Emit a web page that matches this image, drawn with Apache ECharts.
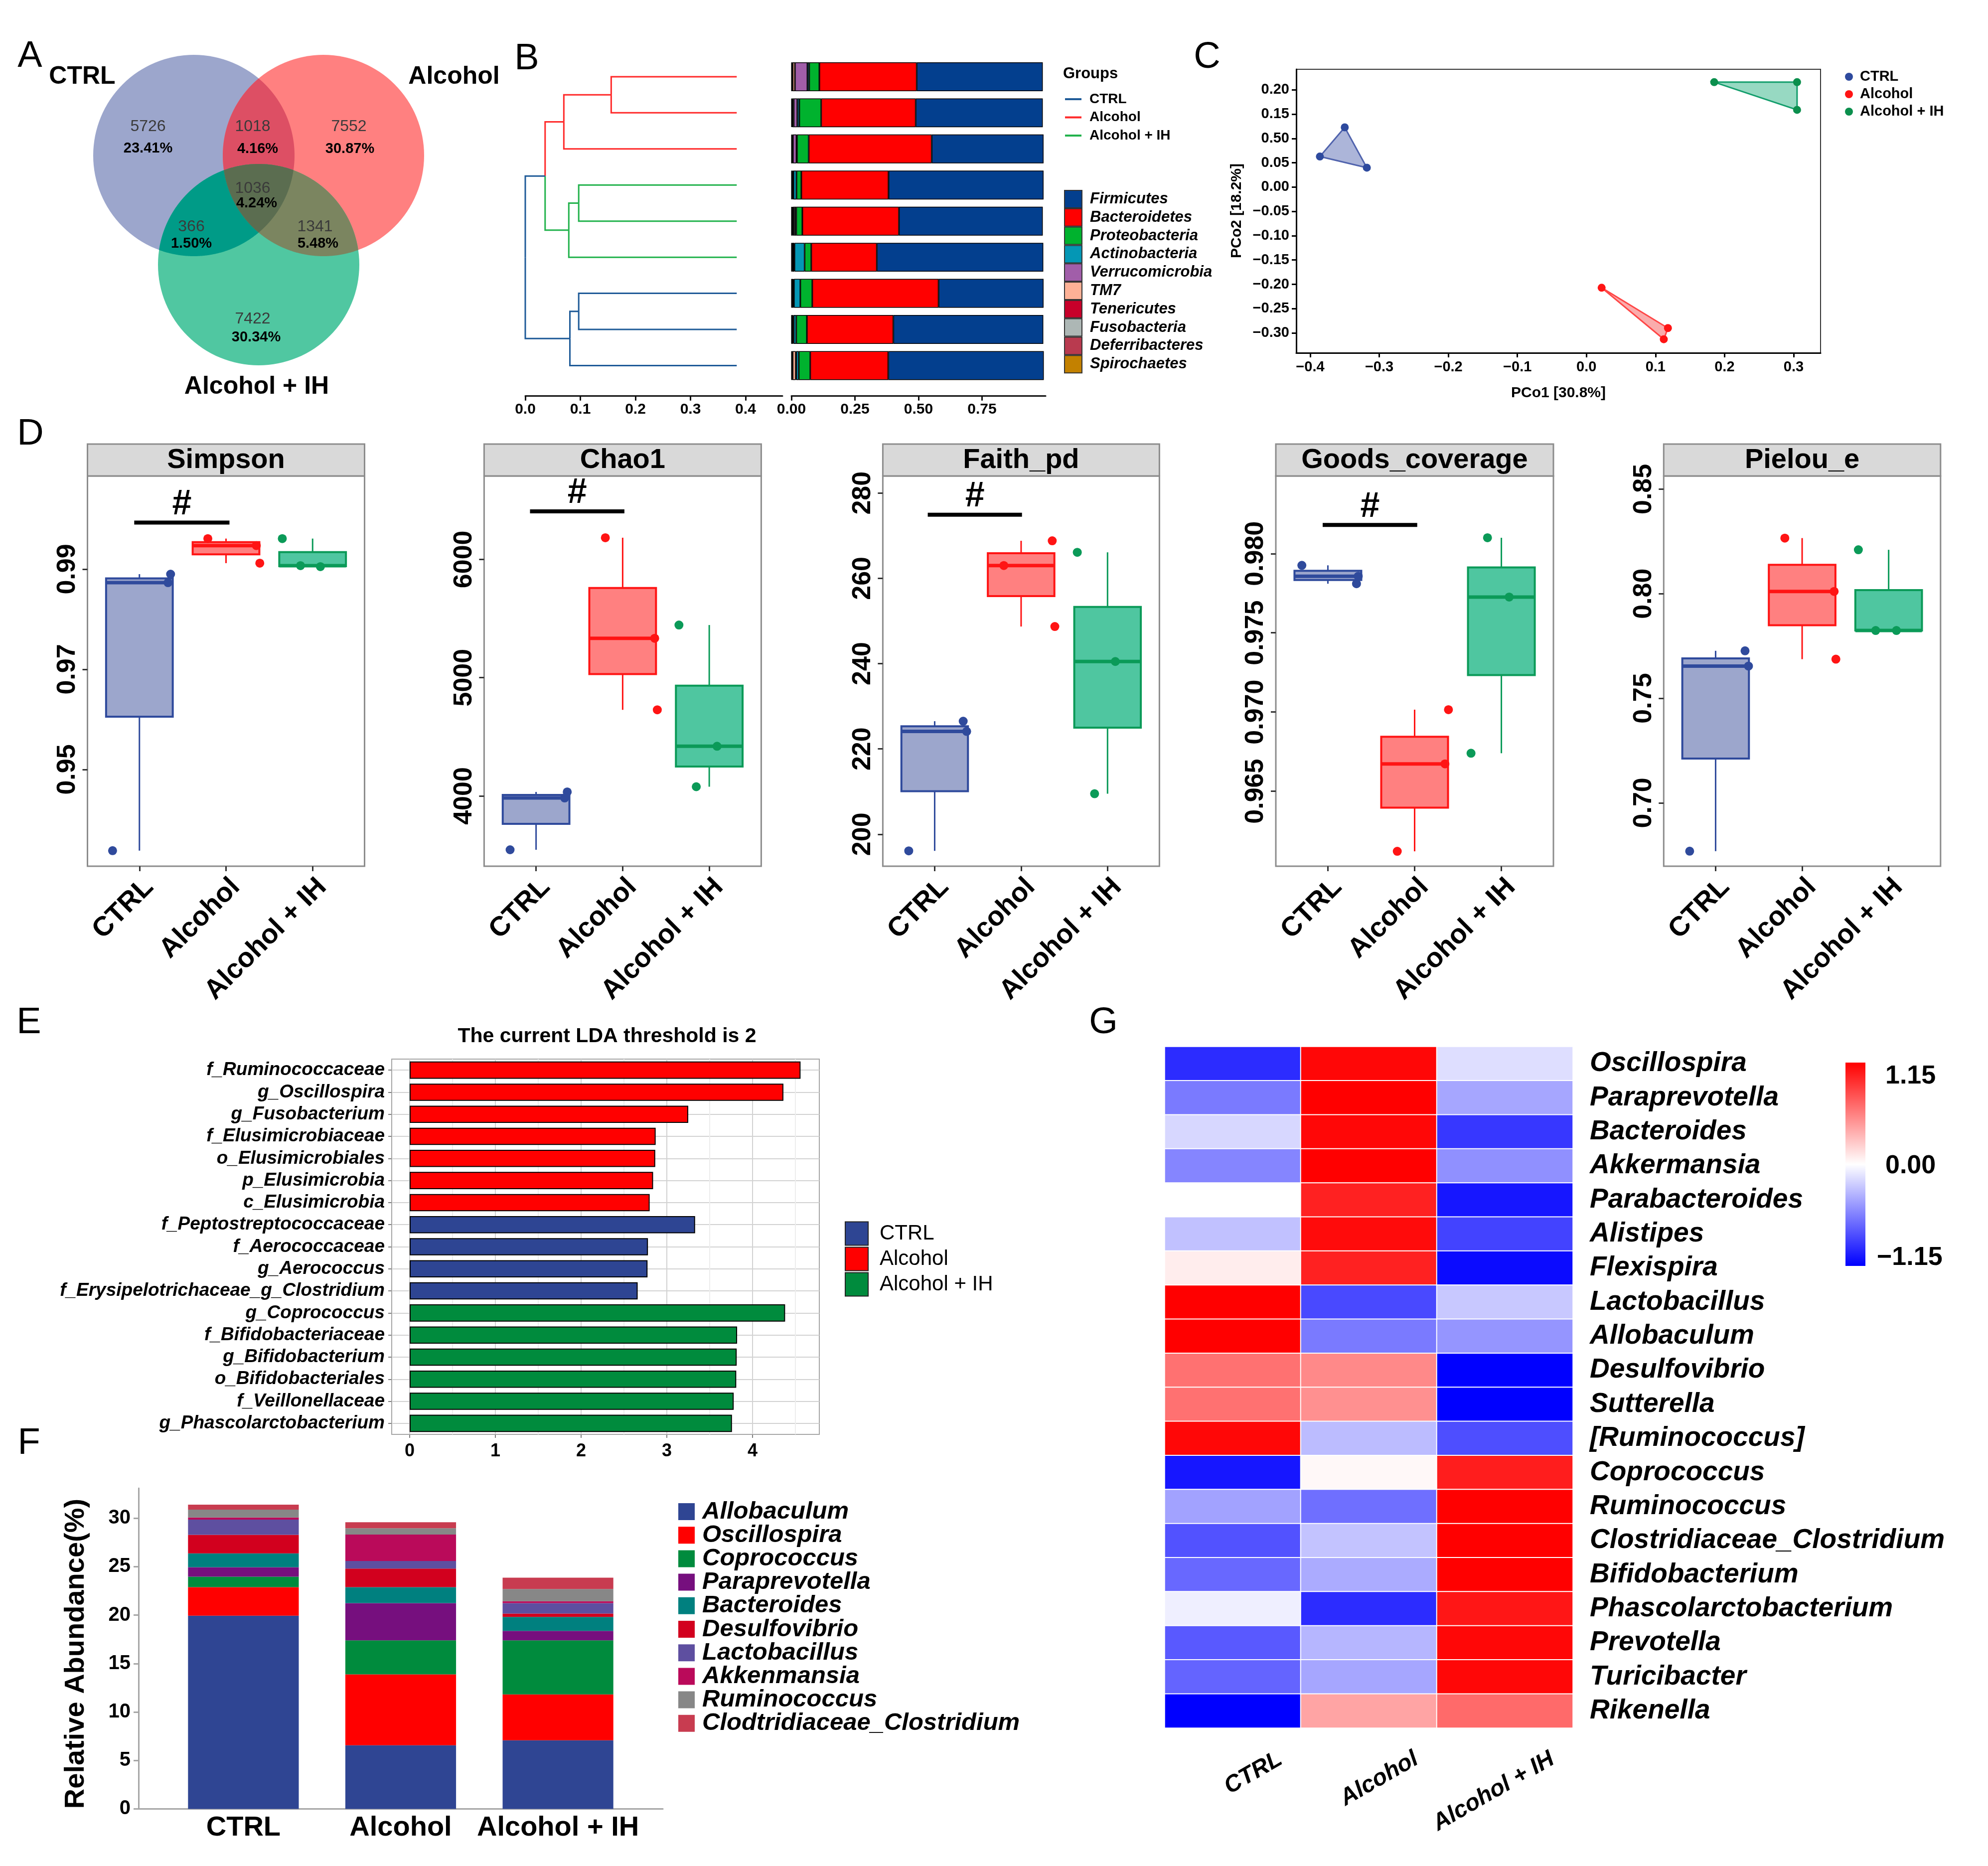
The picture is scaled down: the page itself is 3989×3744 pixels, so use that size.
<!DOCTYPE html>
<html>
<head>
<meta charset="utf-8">
<title>Figure</title>
<script src="https://cdn.jsdelivr.net/npm/echarts@6.0.0/dist/echarts.min.js"></script>
<style>
html,body{margin:0;padding:0;background:#ffffff;}
#chart{width:3989px;height:3744px;}
</style>
</head>
<body>
<div id="chart"></div>
<script>
// ======================= DATA =======================
const groups = ['CTRL', 'Alcohol', 'Alcohol + IH'];

// ---- Panel A: Venn ----
const vennSets = ['CTRL', 'Alcohol', 'Alcohol + IH'];
// order: CTRL only, CTRL&Alcohol, Alcohol only, all three, CTRL&IH, Alcohol&IH, IH only
const vennCounts = [5726, 1018, 7552, 1036, 366, 1341, 7422];
const vennPercents = ['23.41%', '4.16%', '30.87%', '4.24%', '1.50%', '5.48%', '30.34%'];

// ---- Panel B: dendrogram + phylum bars ----
const dendroLeafHeight = 0.384;
const dendroLeafGroup = [1, 1, 1, 2, 2, 2, 0, 0, 0];
// [childA, childB, height, group]  (leaves 0-8, merges numbered from 9)
const dendroMerges = [
  [0, 1, 0.156, 1], [9, 2, 0.070, 1], [3, 4, 0.097, 2], [11, 5, 0.079, 2],
  [10, 12, 0.036, 0], [6, 7, 0.097, 0], [14, 8, 0.081, 0], [13, 15, 0.0, 0]
];
const dendroTicks = [0, 0.1, 0.2, 0.3, 0.4];
const sampleIds = ['A1', 'A2', 'A3', 'I1', 'I2', 'I3', 'C1', 'C2', 'C3'];
const phyla = ['Firmicutes', 'Bacteroidetes', 'Proteobacteria', 'Actinobacteria', 'Verrucomicrobia',
  'TM7', 'Tenericutes', 'Fusobacteria', 'Deferribacteres', 'Spirochaetes'];
const firmicutes      = [0.496, 0.500, 0.440, 0.610, 0.566, 0.655, 0.413, 0.590, 0.612];
const bacteroidetes   = [0.383, 0.372, 0.484, 0.343, 0.380, 0.258, 0.497, 0.340, 0.307];
const proteobacteria  = [0.040, 0.086, 0.046, 0.019, 0.024, 0.026, 0.047, 0.042, 0.045];
const actinobacteria  = [0.007, 0.008, 0.002, 0.012, 0.006, 0.040, 0.025, 0.010, 0.010];
const verrucomicrobia = [0.049, 0.014, 0.014, 0.001, 0.006, 0.002, 0.002, 0.002, 0.002];
const tm7             = [0.009, 0.004, 0.002, 0.002, 0.002, 0.005, 0.003, 0.002, 0.012];
const tenericutes     = [0.001, 0.001, 0.001, 0.001, 0.001, 0.001, 0.001, 0.001, 0.001];
const fusobacteria    = [0.002, 0.002, 0.001, 0.002, 0.002, 0.002, 0.002, 0.002, 0.002];
const deferribacteres = [0.001, 0.001, 0.001, 0.001, 0.001, 0.001, 0.001, 0.001, 0.001];
const spirochaetes    = [0.001, 0.001, 0.001, 0.001, 0.001, 0.001, 0.001, 0.001, 0.001];
const phylumValues = [firmicutes, bacteroidetes, proteobacteria, actinobacteria, verrucomicrobia,
  tm7, tenericutes, fusobacteria, deferribacteres, spirochaetes];
const barTicks = [0, 0.25, 0.5, 0.75];
const barTickLabels = ['0.00', '0.25', '0.50', '0.75'];

// ---- Panel C: PCoA ----
const pcoaCtrlX = [-0.350, -0.386, -0.318];
const pcoaCtrlY = [0.123, 0.063, 0.040];
const pcoaAlcX = [0.022, 0.118, 0.112];
const pcoaAlcY = [-0.207, -0.290, -0.313];
const pcoaIhX = [0.185, 0.305, 0.305];
const pcoaIhY = [0.216, 0.216, 0.159];
const pcoaXTicks = [-0.4, -0.3, -0.2, -0.1, 0, 0.1, 0.2, 0.3];
const pcoaXLabels = ['\u22120.4', '\u22120.3', '\u22120.2', '\u22120.1', '0.0', '0.1', '0.2', '0.3'];
const pcoaYTicks = [-0.30, -0.25, -0.20, -0.15, -0.10, -0.05, 0, 0.05, 0.10, 0.15, 0.20];
const pcoaYLabels = ['\u22120.30', '\u22120.25', '\u22120.20', '\u22120.15', '\u22120.10', '\u22120.05',
  '0.00', '0.05', '0.50', '0.15', '0.20'];

// ---- Panel D: alpha diversity (3 samples / group, jittered x) ----
const simpsonValues = [[0.9338, 0.9873, 0.9890], [0.9961, 0.9947, 0.9912], [0.9961, 0.9907, 0.9905]];
const simpsonJitter = [[0.69, 1.33, 1.36], [1.79, 2.35, 2.39], [2.65, 2.86, 3.09]];
const simpsonTicks = [0.95, 0.97, 0.99];
const simpsonTickLabels = ['0.95', '0.97', '0.99'];
const simpsonSig = [0.94, 2.04, 0.9993];

const chao1Values = [[3545, 3983, 4034], [6183, 5333, 4728], [5445, 4078, 4420]];
const chao1Jitter = [[0.70, 1.33, 1.36], [1.80, 2.37, 2.40], [2.65, 2.85, 3.09]];
const chao1Ticks = [4000, 5000, 6000];
const chao1TickLabels = ['4000', '5000', '6000'];
const chao1Sig = [0.93, 2.02, 6406];

const faithValues = [[196.1, 226.5, 224.1], [263.0, 268.8, 248.7], [266.1, 240.5, 209.5]];
const faithJitter = [[0.70, 1.33, 1.37], [1.80, 2.36, 2.39], [2.65, 3.09, 2.85]];
const faithTicks = [200, 220, 240, 260, 280];
const faithTickLabels = ['200', '220', '240', '260', '280'];
const faithSig = [0.92, 2.01, 274.9];

const goodsValues = [[0.97926, 0.97857, 0.97810], [0.97015, 0.96673, 0.96121], [0.98100, 0.97726, 0.96740]];
const goodsJitter = [[0.70, 1.35, 1.33], [2.39, 2.35, 1.80], [2.84, 3.09, 2.65]];
const goodsTicks = [0.965, 0.970, 0.975, 0.980];
const goodsTickLabels = ['0.965', '0.970', '0.975', '0.980'];
const goodsSig = [0.94, 2.03, 0.98181];

const pielouValues = [[0.6769, 0.7727, 0.7654], [0.8266, 0.8011, 0.7687], [0.8210, 0.7824, 0.7824]];
const pielouJitter = [[0.70, 1.34, 1.38], [1.80, 2.37, 2.39], [2.65, 2.85, 3.09]];
const pielouTicks = [0.70, 0.75, 0.80, 0.85];
const pielouTickLabels = ['0.70', '0.75', '0.80', '0.85'];

// ---- Panel E: LEfSe LDA ----
const ldaTaxa = ['f_Ruminococcaceae', 'g_Oscillospira', 'g_Fusobacterium', 'f_Elusimicrobiaceae',
  'o_Elusimicrobiales', 'p_Elusimicrobia', 'c_Elusimicrobia', 'f_Peptostreptococcaceae',
  'f_Aerococcaceae', 'g_Aerococcus', 'f_Erysipelotrichaceae_g_Clostridium', 'g_Coprococcus',
  'f_Bifidobacteriaceae', 'g_Bifidobacterium', 'o_Bifidobacteriales', 'f_Veillonellaceae',
  'g_Phascolarctobacterium'];
const ldaScores = [4.56, 4.36, 3.25, 2.87, 2.865, 2.84, 2.80, 3.33, 2.78, 2.775, 2.66,
  4.38, 3.82, 3.815, 3.81, 3.78, 3.76];
const ldaGroup = [1, 1, 1, 1, 1, 1, 1, 0, 0, 0, 0, 2, 2, 2, 2, 2, 2];
const ldaTicks = [0, 1, 2, 3, 4];
const ldaMinorTicks = [0.5, 1.5, 2.5, 3.5, 4.5];

// ---- Panel F: genus relative abundance ----
const genera = ['Allobaculum', 'Oscillospira', 'Coprococcus', 'Paraprevotella', 'Bacteroides',
  'Desulfovibrio', 'Lactobacillus', 'Akkenmansia', 'Ruminococcus', 'Clodtridiaceae_Clostridium'];
const ctrlAbund = [19.94, 2.95, 1.08, 0.97, 1.43, 1.92, 1.57, 0.22, 0.81, 0.51];
const alcAbund  = [6.57, 7.32, 3.51, 3.84, 1.65, 1.92, 0.78, 2.73, 0.65, 0.62];
const ihAbund   = [7.08, 4.73, 5.59, 0.98, 1.43, 0.35, 1.08, 0.19, 1.27, 1.16];
const abundTicks = [0, 5, 10, 15, 20, 25, 30];

// ---- Panel G: heatmap (z-scores) ----
const heatRows = ['Oscillospira', 'Paraprevotella', 'Bacteroides', 'Akkermansia', 'Parabacteroides',
  'Alistipes', 'Flexispira', 'Lactobacillus', 'Allobaculum', 'Desulfovibrio', 'Sutterella',
  '[Ruminococcus]', 'Coprococcus', 'Ruminococcus', 'Clostridiaceae_Clostridium', 'Bifidobacterium',
  'Phascolarctobacterium', 'Prevotella', 'Turicibacter', 'Rikenella'];
const heatCtrl = [-0.95, -0.60, -0.18, -0.55, 0.00, -0.28, 0.08, 1.15, 1.15, 0.64, 0.64, 1.12,
  -1.05, -0.42, -0.78, -0.68, -0.07, -0.75, -0.70, -1.15];
const heatAlc = [1.12, 1.15, 1.12, 1.15, 1.00, 1.10, 1.00, -0.82, -0.60, 0.53, 0.50, -0.30,
  0.03, -0.65, -0.27, -0.38, -0.95, -0.33, -0.40, 0.41];
const heatIh = [-0.15, -0.40, -0.90, -0.50, -1.05, -0.85, -1.10, -0.25, -0.48, -1.15, -1.15, -0.80,
  1.02, 1.15, 1.15, 1.15, 1.05, 1.12, 1.12, 0.67];
const heatRange = [-1.15, 1.15];
const heatScaleLabels = ['1.15', '0.00', '\u22121.15'];

// ======================= STYLE / HELPERS =======================
const FONT = "'Liberation Sans', Arial, Helvetica, sans-serif";
const grids = [], xAxes = [], yAxes = [], series = [], gfx = [];
function addGrid(g) { grids.push(g); return grids.length - 1; }
function addX(a) { xAxes.push(a); return xAxes.length - 1; }
function addY(a) { yAxes.push(a); return yAxes.length - 1; }
function fnt(size, weight, style) {
  return [style && style !== 'normal' ? style : '', weight && weight !== 'normal' ? weight : '', size + 'px', FONT]
    .filter(Boolean).join(' ');
}
function txt(x, y, text, font, align, valign, rotation, fill, z) {
  align = align || 'center'; valign = valign || 'middle';
  return { type: 'text', x: x, y: y, rotation: rotation || 0, silent: true, z: z || 50,
    style: { text: String(text), x: 0, y: 0, font: font, fill: fill || '#000',
      align: align, verticalAlign: valign, textAlign: align, textVerticalAlign: valign } };
}
function labelFrom(ticks, labels) {
  return function (v) {
    let b = 0;
    for (let i = 1; i < ticks.length; i++) if (Math.abs(ticks[i] - v) < Math.abs(ticks[b] - v)) b = i;
    return labels[b];
  };
}
function fiveNum(arr) {
  const a = arr.slice().sort((p, q) => p - q);
  const qt = p => { const h = (a.length - 1) * p, lo = Math.floor(h), hi = Math.min(lo + 1, a.length - 1);
    return a[lo] + (h - lo) * (a[hi] - a[lo]); };
  return [a[0], qt(0.25), qt(0.5), qt(0.75), a[a.length - 1]];
}
const grpLine = ['#2F4A9C', '#FF1414', '#0B9A58'];
const grpFill = ['#9CA6CC', '#FF8080', '#4FC6A0'];
const dendroColors = ['#1F5B98', '#FF2A2A', '#22B24C'];
const phylumColors = ['#033F8E', '#FF0000', '#00B22E', '#0497B5', '#A15EA9', '#FDB196',
  '#C8002A', '#ADB7B5', '#B93A4F', '#C38100'];
const ldaColors = ['#2E4593', '#FF0000', '#008B3D'];
const genusColors = ['#2F4593', '#FF0000', '#008B3D', '#760F7E', '#00807F', '#D2001E',
  '#5E4FA0', '#BA0A5A', '#878787', '#C83C50'];

// ======================= PANEL LETTERS =======================
[['A', 60, 114], ['B', 1057, 119], ['C', 2422, 116], ['D', 61, 872], ['E', 58, 2053], ['F', 58, 2897], ['G', 2214, 2053]]
  .forEach(l => gfx.push(txt(l[1], l[2], l[0], fnt(74), 'center', 'middle')));

// ======================= A: VENN =======================
const vennCenters = [[389, 312], [649, 312], [519, 531]];
const vennR = 202;
const vennBase = ['#9CA6CC', '#FF8080', '#50C7A1'];
function vennRegion(ids) {
  const pts = [];
  ids.forEach(i => {
    for (let k = 0; k < 1440; k++) {
      const t = k / 1440 * 2 * Math.PI;
      const p = [vennCenters[i][0] + vennR * Math.cos(t), vennCenters[i][1] + vennR * Math.sin(t)];
      const ok = ids.every(j => j === i ||
        Math.pow(p[0] - vennCenters[j][0], 2) + Math.pow(p[1] - vennCenters[j][1], 2) <= vennR * vennR + 2);
      if (ok) pts.push(p);
    }
  });
  let cx = 0, cy = 0; pts.forEach(p => { cx += p[0]; cy += p[1]; }); cx /= pts.length; cy /= pts.length;
  pts.sort((p, q) => Math.atan2(p[1] - cy, p[0] - cx) - Math.atan2(q[1] - cy, q[0] - cx));
  return pts;
}
vennCenters.forEach((c, i) => gfx.push({ type: 'circle', silent: true, z: 10,
  shape: { cx: c[0], cy: c[1], r: vennR }, style: { fill: vennBase[i] } }));
[[[0, 1], '#DD4F64'], [[0, 2], '#009B87'], [[1, 2], '#7B8560'], [[0, 1, 2], '#5B6D50']].forEach(r =>
  gfx.push({ type: 'polygon', silent: true, z: 11, shape: { points: vennRegion(r[0]) }, style: { fill: r[1] } }));
const vennNumPos = [[297, 254], [507, 254], [700, 254], [507, 378], [384, 455], [632, 455], [507, 640]];
const vennPctPos = [[297, 298], [517, 299], [702, 299], [515, 408], [384, 489], [638, 489], [514, 677]];
vennCounts.forEach((n, i) => {
  gfx.push(txt(vennNumPos[i][0], vennNumPos[i][1], n, fnt(32), 'center', 'middle', 0, '#3A3A3A', 20));
  gfx.push(txt(vennPctPos[i][0], vennPctPos[i][1], vennPercents[i], fnt(29, 'bold'), 'center', 'middle', 0, '#000', 20));
});
gfx.push(txt(165, 154, vennSets[0], fnt(50, 'bold')));
gfx.push(txt(911, 154, vennSets[1], fnt(50, 'bold')));
gfx.push(txt(515, 776, vennSets[2], fnt(50, 'bold')));

// ======================= B: DENDROGRAM =======================
const gDen = addGrid({ left: 1054, top: 117.7, width: 516, height: 652 });
const xDen = addX({ gridIndex: gDen, type: 'value', min: 0, max: 0.467, offset: 25,
  axisLine: { show: true, onZero: false, lineStyle: { color: '#111', width: 3 } },
  axisTick: { show: true, length: 9, customValues: dendroTicks, lineStyle: { color: '#111', width: 3 } },
  axisLabel: { customValues: dendroTicks, formatter: v => v.toFixed(1), fontSize: 30, fontWeight: 'bold', color: '#000', margin: 12 },
  splitLine: { show: false } });
const yDen = addY({ gridIndex: gDen, type: 'value', min: -0.5, max: 8.5, inverse: true, show: false, splitLine: { show: false } });
const nodeX = [], nodeY = [], nodeG = [];
for (let i = 0; i < dendroLeafGroup.length; i++) { nodeX[i] = dendroLeafHeight; nodeY[i] = i; nodeG[i] = dendroLeafGroup[i]; }
dendroMerges.forEach((m, k) => { const id = dendroLeafGroup.length + k; nodeX[id] = m[2];
  nodeY[id] = (nodeY[m[0]] + nodeY[m[1]]) / 2; nodeG[id] = m[3]; });
const branchData = [];
dendroMerges.forEach((m, k) => { const id = dendroLeafGroup.length + k;
  [m[0], m[1]].forEach(c => branchData.push([nodeX[id], nodeY[id], nodeX[c], nodeY[c], nodeG[c]])); });
series.push({ type: 'custom', name: 'dendrogram', xAxisIndex: xDen, yAxisIndex: yDen, data: branchData,
  encode: { x: [0, 2], y: [1, 3] }, silent: true,
  renderItem: function (p, api) {
    const a = api.coord([api.value(0), api.value(1)]);
    const b = api.coord([api.value(0), api.value(3)]);
    const c = api.coord([api.value(2), api.value(3)]);
    return { type: 'polyline', shape: { points: [a, b, c] },
      style: { stroke: dendroColors[api.value(4)], lineWidth: 3, fill: 'none' } };
  } });

// ======================= B: PHYLUM BARS =======================
const gBar = addGrid({ left: 1588, top: 117.7, width: 510, height: 652 });
const xBar = addX({ gridIndex: gBar, type: 'value', min: 0, max: 1, offset: 25,
  axisLine: { show: true, onZero: false, lineStyle: { color: '#111', width: 3 } },
  axisTick: { show: true, length: 9, customValues: barTicks, lineStyle: { color: '#111', width: 3 } },
  axisLabel: { customValues: barTicks, formatter: labelFrom(barTicks, barTickLabels), fontSize: 30, fontWeight: 'bold', color: '#000', margin: 12 },
  splitLine: { show: false } });
const yBar = addY({ gridIndex: gBar, type: 'category', data: sampleIds, inverse: true, show: false });
for (let k = phyla.length - 1; k >= 0; k--) {
  series.push({ type: 'bar', name: phyla[k], xAxisIndex: xBar, yAxisIndex: yBar, stack: 'phylum', barWidth: '80%',
    data: phylumValues[k], silent: true,
    itemStyle: { color: phylumColors[k], borderColor: '#000', borderWidth: 1.5 } });
}
// legends of B
gfx.push(txt(2133, 148, 'Groups', fnt(31, 'bold'), 'left'));
groups.forEach((g, i) => {
  const y = 199 + i * 36.5;
  gfx.push({ type: 'line', silent: true, z: 50, shape: { x1: 2137, y1: y, x2: 2170, y2: y }, style: { stroke: dendroColors[i], lineWidth: 4 } });
  gfx.push(txt(2186, y, g, fnt(28, 'bold'), 'left'));
});
phyla.forEach((p, i) => {
  const y = 399.5 + i * 36.8;
  gfx.push({ type: 'rect', silent: true, z: 50, shape: { x: 2136, y: y - 17.5, width: 35, height: 35 },
    style: { fill: phylumColors[i], stroke: '#333', lineWidth: 2 } });
  gfx.push(txt(2187, y, p, fnt(31, 'bold', 'italic'), 'left'));
});

// ======================= C: PCoA =======================
const gC = addGrid({ left: 2601, top: 139, width: 1052, height: 569, show: true, borderColor: '#333', borderWidth: 2 });
const xC = addX({ gridIndex: gC, type: 'value', min: -0.4202, max: 0.339,
  axisLine: { show: true, onZero: false, lineStyle: { color: '#000', width: 3 } },
  axisTick: { show: true, length: 9, customValues: pcoaXTicks, lineStyle: { color: '#000', width: 3 } },
  axisLabel: { customValues: pcoaXTicks, formatter: labelFrom(pcoaXTicks, pcoaXLabels), fontSize: 29, fontWeight: 'bold', color: '#000', margin: 14 },
  splitLine: { show: false } });
const yC = addY({ gridIndex: gC, type: 'value', min: -0.341, max: 0.2425,
  axisLine: { show: true, onZero: false, lineStyle: { color: '#000', width: 3 } },
  axisTick: { show: true, length: 9, customValues: pcoaYTicks, lineStyle: { color: '#000', width: 3 } },
  axisLabel: { customValues: pcoaYTicks, formatter: labelFrom(pcoaYTicks, pcoaYLabels), fontSize: 29, fontWeight: 'bold', color: '#000', margin: 14 },
  splitLine: { show: false } });
const pcoaGroups = [[pcoaCtrlX, pcoaCtrlY], [pcoaAlcX, pcoaAlcY], [pcoaIhX, pcoaIhY]];
const pcoaPoly = ['rgba(70,90,170,0.45)', 'rgba(245,70,70,0.45)', 'rgba(25,170,120,0.45)'];
const pcoaLine = ['#5063AD', '#FF4646', '#139E6C'];
const pcoaDot = ['#2E4A9E', '#FF1414', '#0B8F4D'];
pcoaGroups.forEach((g, gi) => {
  const data = g[0].map((x, i) => [x, g[1][i]]);
  series.push({ type: 'custom', name: groups[gi] + ' hull', xAxisIndex: xC, yAxisIndex: yC, data: data, z: 2, silent: true,
    encode: { x: 0, y: 1 },
    renderItem: function (p, api) {
      if (p.dataIndex !== 0) return null;
      const pts = data.map(d => api.coord(d));
      return { type: 'polygon', shape: { points: pts }, style: { fill: pcoaPoly[gi], stroke: pcoaLine[gi], lineWidth: 3 } };
    } });
  series.push({ type: 'scatter', name: groups[gi] + ' pcoa', xAxisIndex: xC, yAxisIndex: yC, data: data, z: 3,
    symbolSize: 16, itemStyle: { color: pcoaDot[gi], opacity: 1 }, silent: true });
});
groups.forEach((g, i) => {
  const y = 154 + i * 35;
  gfx.push({ type: 'circle', silent: true, z: 50, shape: { cx: 3710, cy: y, r: 8 }, style: { fill: pcoaDot[i] } });
  gfx.push(txt(3732, y, g, fnt(29, 'bold'), 'left'));
});
gfx.push(txt(3127, 789, 'PCo1 [30.8%]', fnt(30, 'bold')));
gfx.push(txt(2482, 423, 'PCo2 [18.2%]', fnt(30, 'bold'), 'center', 'middle', Math.PI / 2));

// ======================= D: BOX PLOTS =======================
const dPanels = [
  { title: 'Simpson', left: 175.5, width: 556, min: 0.9307, max: 1.0086, ticks: simpsonTicks, labels: simpsonTickLabels, values: simpsonValues, jitter: simpsonJitter, sig: simpsonSig },
  { title: 'Chao1', left: 971.4, width: 556, min: 3406, max: 6705, ticks: chao1Ticks, labels: chao1TickLabels, values: chao1Values, jitter: chao1Jitter, sig: chao1Sig },
  { title: 'Faith_pd', left: 1771.4, width: 555, min: 192.5, max: 284, ticks: faithTicks, labels: faithTickLabels, values: faithValues, jitter: faithJitter, sig: faithSig },
  { title: 'Goods_coverage', left: 2560, width: 557, min: 0.96027, max: 0.9849, ticks: goodsTicks, labels: goodsTickLabels, values: goodsValues, jitter: goodsJitter, sig: goodsSig },
  { title: 'Pielou_e', left: 3338.3, width: 555.5, min: 0.6697, max: 0.8563, ticks: pielouTicks, labels: pielouTickLabels, values: pielouValues, jitter: pielouJitter, sig: null }
];
const groupPos = [1, 2, 3];
dPanels.forEach(P => {
  const g = addGrid({ left: P.left, top: 955, width: P.width, height: 783, show: true, borderColor: '#8C8C8C', borderWidth: 3, backgroundColor: '#fff' });
  const xi = addX({ gridIndex: g, type: 'value', min: 0.4, max: 3.6,
    axisLine: { show: false, onZero: false },
    axisTick: { show: true, length: 10, customValues: groupPos, lineStyle: { color: '#333', width: 3 } },
    axisLabel: { customValues: groupPos, formatter: v => groups[Math.round(v) - 1], rotate: 45, fontSize: 55, fontWeight: 'bold', color: '#000', margin: 14,
      align: 'right', verticalAlign: 'top' },
    splitLine: { show: false } });
  const yi = addY({ gridIndex: g, type: 'value', min: P.min, max: P.max,
    axisLine: { show: false, onZero: false },
    axisTick: { show: true, length: 10, customValues: P.ticks, lineStyle: { color: '#333', width: 3 } },
    axisLabel: { customValues: P.ticks, formatter: labelFrom(P.ticks, P.labels), rotate: 90, fontSize: 52, fontWeight: 'bold', color: '#000', margin: 14 },
    splitLine: { show: false } });
  series.push({ type: 'custom', name: P.title + ' box', xAxisIndex: xi, yAxisIndex: yi, silent: true, z: 2,
    data: P.values.map((v, i) => [groupPos[i]].concat(fiveNum(v))),
    encode: { x: 0, y: [1, 2, 3, 4, 5] },
    renderItem: function (p, api) {
      const gx = api.value(0), gi = Math.round(gx) - 1, hw = 0.385;
      const mn = api.value(1), q1 = api.value(2), md = api.value(3), q3 = api.value(4), mx = api.value(5);
      const tl = api.coord([gx - hw, q3]), br = api.coord([gx + hw, q1]);
      const top = api.coord([gx, mx]), bot = api.coord([gx, mn]), c3 = api.coord([gx, q3]), c1 = api.coord([gx, q1]);
      const ml = api.coord([gx - hw, md]), mr = api.coord([gx + hw, md]);
      const col = grpLine[gi];
      return { type: 'group', children: [
        { type: 'line', shape: { x1: top[0], y1: top[1], x2: c3[0], y2: c3[1] }, style: { stroke: col, lineWidth: 3 } },
        { type: 'line', shape: { x1: c1[0], y1: c1[1], x2: bot[0], y2: bot[1] }, style: { stroke: col, lineWidth: 3 } },
        { type: 'rect', shape: { x: tl[0], y: tl[1], width: br[0] - tl[0], height: br[1] - tl[1] }, style: { fill: grpFill[gi], stroke: col, lineWidth: 4 } },
        { type: 'line', shape: { x1: ml[0], y1: ml[1], x2: mr[0], y2: mr[1] }, style: { stroke: col, lineWidth: 7 } }
      ] };
    } });
  const pts = [];
  P.values.forEach((vals, gi) => vals.forEach((v, k) => pts.push({ value: [P.jitter[gi][k], v], itemStyle: { color: grpLine[gi], opacity: 1 } })));
  series.push({ type: 'scatter', name: P.title + ' points', xAxisIndex: xi, yAxisIndex: yi, data: pts, symbolSize: 18, z: 3, silent: true });
  if (P.sig) {
    series.push({ type: 'custom', name: P.title + ' sig', xAxisIndex: xi, yAxisIndex: yi, data: [P.sig], silent: true, z: 4,
      encode: { x: [0, 1], y: 2 },
      renderItem: function (p, api) {
        const a = api.coord([api.value(0), api.value(2)]), b = api.coord([api.value(1), api.value(2)]);
        return { type: 'group', children: [
          { type: 'line', shape: { x1: a[0], y1: a[1], x2: b[0], y2: b[1] }, style: { stroke: '#000', lineWidth: 8 } },
          { type: 'text', style: { text: '#', x: (a[0] + b[0]) / 2, y: a[1] - 36, font: fnt(70, 'bold'), fill: '#000',
            align: 'center', verticalAlign: 'middle', textAlign: 'center', textVerticalAlign: 'middle' } }
        ] };
      } });
  }
  gfx.push({ type: 'rect', silent: true, z: 40, shape: { x: P.left, y: 891, width: P.width, height: 64 },
    style: { fill: '#D9D9D9', stroke: '#8C8C8C', lineWidth: 3 } });
  gfx.push(txt(P.left + P.width / 2, 924, P.title, fnt(56, 'bold')));
});

// ======================= E: LDA BARS =======================
const gE = addGrid({ left: 786, top: 2125, width: 858, height: 753, show: true, borderColor: '#A6A6A6', borderWidth: 2, backgroundColor: '#fff' });
const xE = addX({ gridIndex: gE, type: 'value', min: -0.209, max: 4.779, position: 'bottom',
  axisLine: { show: false, onZero: false },
  axisTick: { show: true, length: 7, customValues: ldaTicks, lineStyle: { color: '#7F7F7F', width: 2 } },
  axisLabel: { customValues: ldaTicks, formatter: v => String(Math.round(v)), fontSize: 36, fontWeight: 'bold', color: '#000', margin: 16 },
  splitLine: { show: true, lineStyle: { color: '#D2D2D2', width: 2 } } });
addX({ gridIndex: gE, type: 'value', min: -0.209, max: 4.779, position: 'top',
  axisLine: { show: false, onZero: false }, axisLabel: { show: false },
  axisTick: { show: false, customValues: ldaMinorTicks },
  splitLine: { show: true, lineStyle: { color: '#EDEDED', width: 2 } } });
const yE = addY({ gridIndex: gE, type: 'category', data: ldaTaxa, inverse: true,
  axisLine: { show: false, onZero: false },
  axisTick: { show: true, alignWithLabel: true, interval: 0, length: 7, lineStyle: { color: '#7F7F7F', width: 2 } },
  axisLabel: { interval: 0, fontSize: 37, fontWeight: 'bold', fontStyle: 'italic', color: '#000', margin: 14 },
  splitLine: { show: false } });
addY({ gridIndex: gE, type: 'value', min: -0.5, max: ldaTaxa.length - 0.5, inverse: true, position: 'right',
  axisLine: { show: false, onZero: false }, axisLabel: { show: false },
  axisTick: { show: false, customValues: ldaTaxa.map((t, i) => i) },
  splitLine: { show: true, lineStyle: { color: '#D2D2D2', width: 2 } } });
groups.forEach((g, gi) => {
  series.push({ type: 'bar', name: g + ' LDA', xAxisIndex: xE, yAxisIndex: yE, stack: 'lda', barWidth: '78%', silent: true,
    data: ldaScores.map((s, i) => ldaGroup[i] === gi ? s : '-'),
    itemStyle: { color: ldaColors[gi], borderColor: '#000', borderWidth: 2 } });
});
gfx.push(txt(1218, 2080, 'The current LDA threshold is 2', fnt(41, 'bold')));
groups.forEach((g, i) => {
  const y = 2475 + i * 51;
  gfx.push({ type: 'rect', silent: true, z: 50, shape: { x: 1696, y: y - 23.5, width: 46, height: 47 },
    style: { fill: ldaColors[i], stroke: '#222', lineWidth: 2 } });
  gfx.push(txt(1765, y, g, fnt(42), 'left'));
});

// ======================= F: STACKED GENUS BARS =======================
const gF = addGrid({ left: 278, top: 2986, width: 1052, height: 643.4 });
const xF = addX({ gridIndex: gF, type: 'value', min: 0.3333, max: 3.6667,
  axisLine: { show: true, onZero: false, lineStyle: { color: '#A6A6A6', width: 3 } },
  axisTick: { show: false, customValues: groupPos },
  axisLabel: { customValues: groupPos, formatter: v => groups[Math.round(v) - 1], fontSize: 56, fontWeight: 'bold', color: '#000', margin: 10 },
  splitLine: { show: false } });
const yF = addY({ gridIndex: gF, type: 'value', min: 0, max: 33.1,
  axisLine: { show: true, onZero: false, lineStyle: { color: '#A6A6A6', width: 3 } },
  axisTick: { show: true, length: 10, customValues: abundTicks, lineStyle: { color: '#A6A6A6', width: 3 } },
  axisLabel: { customValues: abundTicks, formatter: v => String(Math.round(v)), fontSize: 40, fontWeight: 'bold', color: '#000', margin: 16 },
  splitLine: { show: false } });
const abundByGroup = [ctrlAbund, alcAbund, ihAbund];
const stackData = [];
abundByGroup.forEach((arr, gi) => {
  let base = 0;
  arr.forEach((v, k) => { stackData.push([groupPos[gi], base, base + v, k]); base += v; });
});
series.push({ type: 'custom', name: 'genus stack', xAxisIndex: xF, yAxisIndex: yF, data: stackData, silent: true,
  encode: { x: 0, y: [1, 2] },
  renderItem: function (p, api) {
    const gx = api.value(0), hw = 0.352;
    const a = api.coord([gx - hw, api.value(2)]), b = api.coord([gx + hw, api.value(1)]);
    return { type: 'rect', shape: { x: a[0], y: a[1], width: b[0] - a[0], height: b[1] - a[1] },
      style: { fill: genusColors[api.value(3)] } };
  } });
genera.forEach((gname, i) => {
  const y = 3033 + i * 47.2;
  gfx.push({ type: 'rect', silent: true, z: 50, shape: { x: 1361, y: y - 17, width: 33, height: 34 }, style: { fill: genusColors[i] } });
  gfx.push(txt(1409, y, gname, fnt(49, 'bold', 'italic'), 'left'));
});
gfx.push(txt(153, 3318, 'Relative Abundance(%)', fnt(56, 'bold'), 'center', 'middle', Math.PI / 2));

// ======================= G: HEATMAP =======================
const gG = addGrid({ left: 2337, top: 2100, width: 819, height: 1367 });
const xG = addX({ gridIndex: gG, type: 'category', data: groups,
  axisLine: { show: false }, axisTick: { show: false }, axisLabel: { show: false }, splitLine: { show: false } });
const yG = addY({ gridIndex: gG, type: 'category', data: heatRows, inverse: true, position: 'right',
  axisLine: { show: false }, axisTick: { show: false },
  axisLabel: { interval: 0, fontSize: 55, fontWeight: 'bold', fontStyle: 'italic', color: '#000', margin: 34 } });
const heatCols = [heatCtrl, heatAlc, heatIh];
const heatData = [];
heatCols.forEach((col, ci) => col.forEach((v, ri) => heatData.push([ci, ri, v])));
const heatSeriesIndex = series.length;
series.push({ type: 'heatmap', name: 'heatmap', xAxisIndex: xG, yAxisIndex: yG, data: heatData, silent: true,
  itemStyle: { borderColor: '#FFFFFF', borderWidth: 2 } });
groups.forEach((g, i) => {
  gfx.push(txt(2337 + (i + 0.5) * 273 + 84, 3506, g, fnt(47, 'bold', 'italic'), 'right', 'top', Math.PI / 6));
});
gfx.push({ type: 'rect', silent: true, z: 50, shape: { x: 3703, y: 2132, width: 40, height: 408 },
  style: { fill: new echarts.graphic.LinearGradient(0, 0, 0, 1, [
    { offset: 0, color: '#FF0000' }, { offset: 0.5, color: '#FFFFFF' }, { offset: 1, color: '#0000FF' }]) } });
gfx.push(txt(3783, 2160, heatScaleLabels[0], fnt(52, 'bold'), 'left'));
gfx.push(txt(3783, 2340, heatScaleLabels[1], fnt(52, 'bold'), 'left'));
gfx.push(txt(3766, 2524, heatScaleLabels[2], fnt(52, 'bold'), 'left'));

// ======================= RENDER =======================
const chart = echarts.init(document.getElementById('chart'), null, { renderer: 'canvas', width: 3989, height: 3744 });
chart.setOption({
  animation: false,
  backgroundColor: '#ffffff',
  textStyle: { fontFamily: FONT },
  grid: grids,
  xAxis: xAxes,
  yAxis: yAxes,
  visualMap: [{ type: 'continuous', min: heatRange[0], max: heatRange[1], seriesIndex: heatSeriesIndex, show: false,
    inRange: { color: ['#0000FF', '#FFFFFF', '#FF0000'] } }],
  series: series,
  graphic: { elements: gfx }
});
</script>
</body>
</html>
